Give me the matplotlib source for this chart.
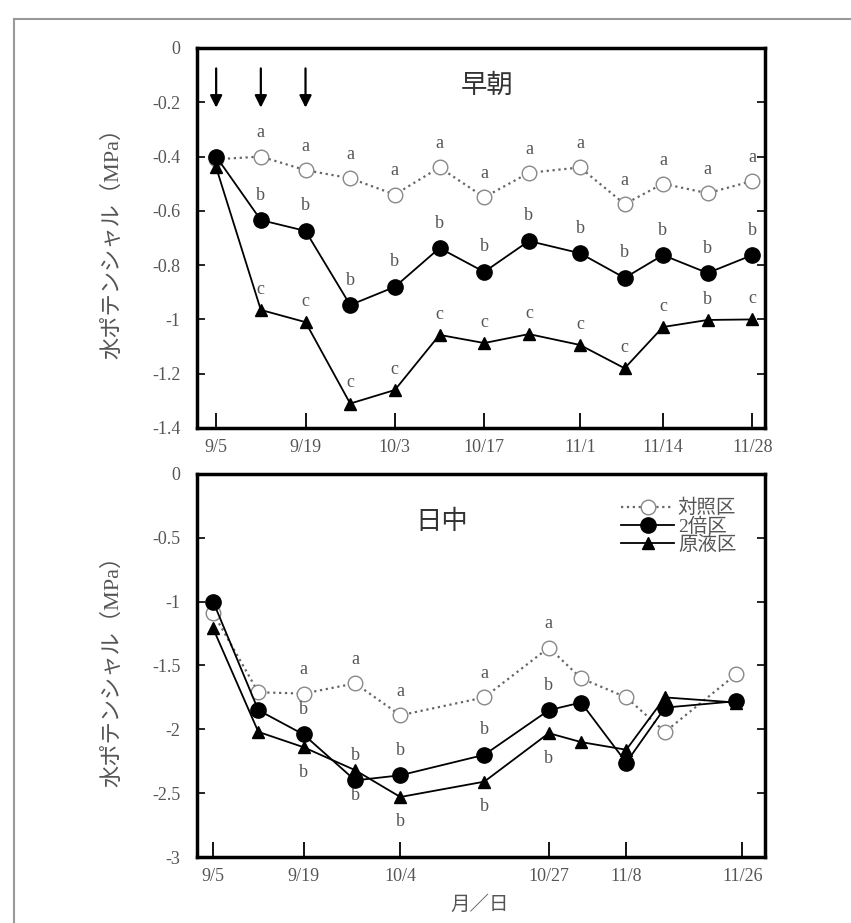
import matplotlib
matplotlib.use('Agg')
import matplotlib.pyplot as plt
from matplotlib.lines import Line2D

plt.rcParams['font.family'] = ['Liberation Serif', 'Noto Sans CJK JP']
plt.rcParams['axes.unicode_minus'] = False

# 早朝 (days after 9/5)
am_days = [0, 7, 14, 21, 28, 35, 42, 49, 57, 64, 70, 77, 84]
am_control = [-0.41, -0.40, -0.45, -0.48, -0.54, -0.44, -0.55, -0.46, -0.44, -0.575, -0.50, -0.535, -0.49]
am_double = [-0.40, -0.634, -0.674, -0.947, -0.88, -0.737, -0.825, -0.711, -0.756, -0.847, -0.763, -0.829, -0.763]
am_raw = [-0.44, -0.965, -1.01, -1.31, -1.26, -1.057, -1.087, -1.054, -1.094, -1.18, -1.028, -1.002, -1.0]
am_control_sig = ['', 'a', 'a', 'a', 'a', 'a', 'a', 'a', 'a', 'a', 'a', 'a', 'a']
am_double_sig = ['', 'b', 'b', 'b', 'b', 'b', 'b', 'b', 'b', 'b', 'b', 'b', 'b']
am_raw_sig = ['', 'c', 'c', 'c', 'c', 'c', 'c', 'c', 'c', 'c', 'c', 'b', 'c']
am_ticks = [0, 14, 28, 42, 57, 70, 84]
am_ticklabels = ['9/5', '9/19', '10/3', '10/17', '11/1', '11/14', '11/28']
spray_days = [0, 7, 14]

# 日中
pm_days = [0, 7, 14, 22, 29, 42, 52, 57, 64, 70, 81]
pm_control = [-1.09, -1.71, -1.72, -1.64, -1.89, -1.75, -1.36, -1.60, -1.75, -2.02, -1.57]
pm_double = [-1.0, -1.85, -2.04, -2.40, -2.36, -2.20, -1.85, -1.79, -2.26, -1.83, -1.78]
pm_raw = [-1.21, -2.02, -2.14, -2.32, -2.53, -2.41, -2.03, -2.10, -2.16, -1.75, -1.79]
pm_control_sig = ['', '', 'a', 'a', 'a', 'a', 'a', '', '', '', '']
pm_double_sig = ['', '', 'b', 'b', 'b', 'b', 'b', '', '', '', '']
pm_raw_sig = ['', '', 'b', 'b', 'b', 'b', 'b', '', '', '', '']
pm_ticks = [0, 14, 29, 52, 64, 82]
pm_ticklabels = ['9/5', '9/19', '10/4', '10/27', '11/8', '11/26']

labels = ['対照区', '2倍区', '原液区']
gray = '#555555'

fig = plt.figure(figsize=(8.51, 9.23), dpi=100)
ax1 = fig.add_axes([0.2315, 0.5363, 0.6675, 0.4117])
ax2 = fig.add_axes([0.2315, 0.0715, 0.6675, 0.415])

# 外枠
fig.add_artist(Line2D([14 / 851, 1], [1 - 19 / 923, 1 - 19 / 923], color='#999999', lw=1.5))
fig.add_artist(Line2D([14 / 851, 14 / 851], [0, 1 - 19 / 923], color='#999999', lw=1.5))


def draw(ax, days, control, double, raw):
    ax.plot(days, control, linestyle=':', color='#666666', lw=1.6, marker='o', ms=10.5,
            mfc='white', mec='#888888', mew=1.0, label=labels[0], zorder=2)
    ax.plot(days, raw, '-', color='black', lw=1.3, marker='^', ms=9, label=labels[2], zorder=3)
    ax.plot(days, double, '-', color='black', lw=1.3, marker='o', ms=11, label=labels[1], zorder=4)


def letters(ax, days, vals, sig, dy):
    for d, v, s in zip(days, vals, sig):
        if s:
            ax.annotate(s, (d, v), xytext=(0, dy), textcoords='offset points',
                        ha='center', va='center', fontsize=13, color=gray)


def style(ax, ticks, ticklabels):
    for sp in ax.spines.values():
        sp.set_linewidth(2.5)
    ax.set_xticks(ticks)
    ax.set_xticklabels(ticklabels)
    ax.tick_params(axis='x', direction='in', length=11, width=1.3, pad=8,
                   labelsize=13, labelcolor=gray)
    ax.tick_params(axis='y', direction='in', length=6, width=1.2, right=True, pad=12,
                   labelsize=13, labelcolor=gray)
    ax.set_ylabel('水ポテンシャル（MPa）', fontsize=16, color=gray)
    ax.yaxis.set_label_coords(-0.13, 0.5)


# 早朝
draw(ax1, am_days, am_control, am_double, am_raw)
letters(ax1, am_days, am_control, am_control_sig, 17)
letters(ax1, am_days, am_double, am_double_sig, 18)
letters(ax1, am_days, am_raw, am_raw_sig, 15)
for d in spray_days:
    ax1.annotate('', xy=(d, -0.23), xytext=(d, -0.065),
                 arrowprops=dict(arrowstyle='-|>', color='black', lw=1.6, mutation_scale=18))
ax1.set_xlim(-3, 86)
ax1.set_ylim(-1.4, 0)
ax1.set_yticks([0, -0.2, -0.4, -0.6, -0.8, -1.0, -1.2, -1.4])
ax1.set_yticklabels(['0', '-0.2', '-0.4', '-0.6', '-0.8', '-1', '-1.2', '-1.4'])
style(ax1, am_ticks, am_ticklabels)
ax1.text(0.51, 0.9, '早朝', transform=ax1.transAxes, ha='center', va='center',
         fontsize=19, color='#333333')

# 日中
draw(ax2, pm_days, pm_control, pm_double, pm_raw)
letters(ax2, pm_days, pm_control, pm_control_sig, 17)
letters(ax2, pm_days, pm_double, pm_double_sig, 18)
letters(ax2, pm_days, pm_raw, pm_raw_sig, -18)
ax2.set_xlim(-2.5, 85.5)
ax2.set_ylim(-3, 0)
ax2.set_yticks([0, -0.5, -1, -1.5, -2, -2.5, -3])
ax2.set_yticklabels(['0', '-0.5', '-1', '-1.5', '-2', '-2.5', '-3'])
style(ax2, pm_ticks, pm_ticklabels)
ax2.text(0.43, 0.875, '日中', transform=ax2.transAxes, ha='center', va='center',
         fontsize=19, color='#333333')
ax2.set_xlabel('月／日', fontsize=14, color=gray)
ax2.xaxis.set_label_coords(0.498, -0.1)

h, l = ax2.get_legend_handles_labels()
order = [0, 2, 1]
ax2.legend([h[i] for i in order], [l[i] for i in order], loc='upper right',
           bbox_to_anchor=(0.97, 0.965), frameon=False, fontsize=14, handlelength=2.7,
           labelspacing=0.0, handletextpad=0.2, borderaxespad=0.2, labelcolor=gray)

plt.savefig('out.png', dpi=100)
